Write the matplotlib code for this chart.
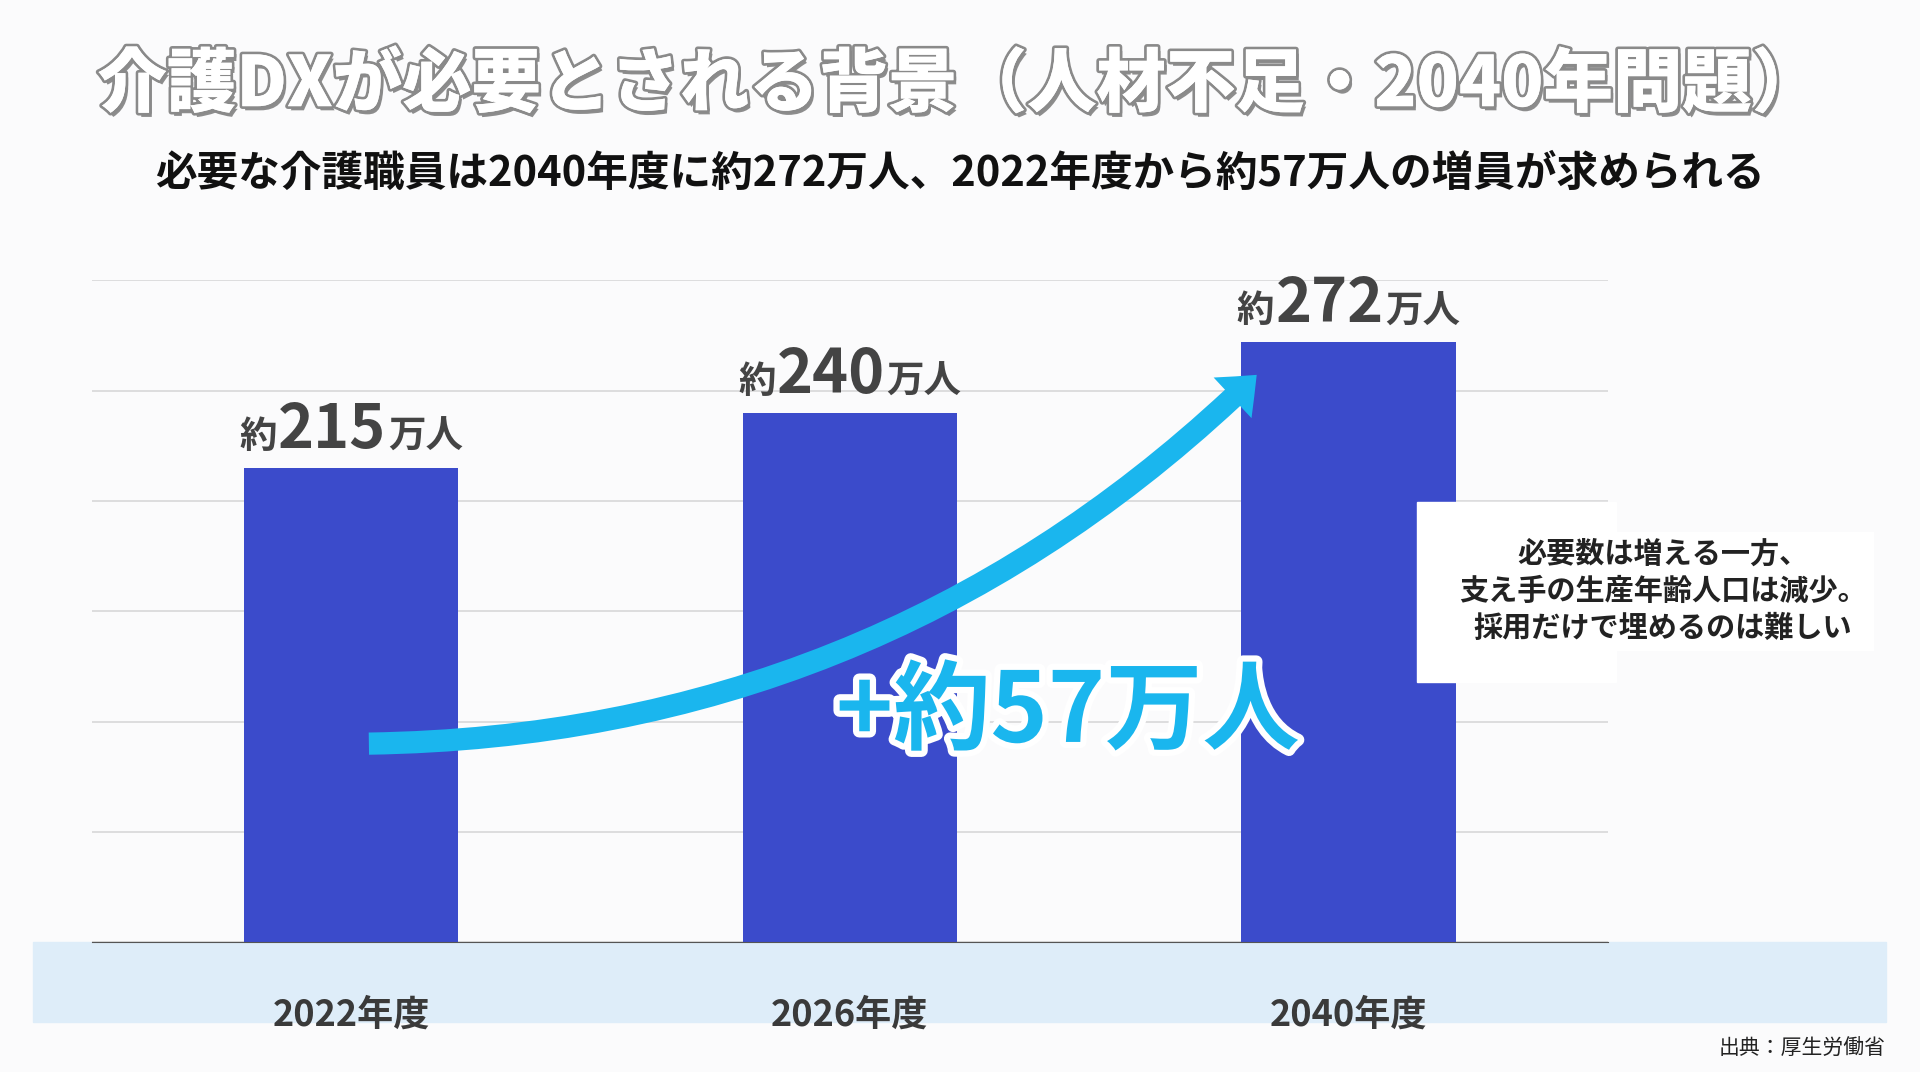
import matplotlib.pyplot as plt
import matplotlib.patheffects as pe
from matplotlib.patches import Rectangle
from matplotlib.offsetbox import TextArea, HPacker, AnnotationBbox

plt.rcParams['font.family'] = ['Noto Sans CJK JP', 'DejaVu Sans']

years = ['2022年度', '2026年度', '2040年度']
workers = [215, 240, 272]
bar_color = '#3b4bcb'
arrow_color = '#1ab6ee'

W, H = 1568, 876
fig = plt.figure(figsize=(19.2, 10.72), dpi=100)
fig.patch.set_facecolor('#fbfbfc')

def fx(px):
    return px / W

def fy(py):
    return 1 - py / H

# light blue band behind the category labels
fig.patches.append(Rectangle((fx(27), fy(835)), fx(1540) - fx(27), fy(770) - fy(835),
                             transform=fig.transFigure, color='#deedf9', zorder=-5))

ax = fig.add_axes([fx(75), fy(770), fx(1313) - fx(75), fy(229) - fy(770)], zorder=1)
ax.set_facecolor('none')
ax.set_xlim(-0.52, 2.52)
ax.set_ylim(0, 300)
ax.set_yticks(range(0, 301, 50))
ax.grid(axis='y', color='#d8d8d8', lw=1.2)
ax.set_axisbelow(True)
for s in ['top', 'right', 'left']:
    ax.spines[s].set_visible(False)
ax.spines['bottom'].set_color('#555555')
ax.tick_params(left=False, labelleft=False, bottom=False, labelbottom=False)
x = list(range(len(years)))
ax.bar(x, workers, width=0.43, color=bar_color, zorder=2)

for xi, yr in zip(x, years):
    ax.text(xi, -33, yr, ha='center', va='center', fontsize=26, fontweight='bold',
            color='#3a3a3a', clip_on=False)

for xi, v in zip(x, workers):
    parts = [TextArea('約', textprops=dict(fontsize=27, fontweight='bold', color='#444444')),
             TextArea(str(v), textprops=dict(fontsize=44, fontweight='bold', color='#444444')),
             TextArea('万人', textprops=dict(fontsize=27, fontweight='bold', color='#444444'))]
    box = HPacker(children=parts, align='baseline', pad=0, sep=1)
    ab = AnnotationBbox(box, (xi, v + 3), box_alignment=(0.5, 0), frameon=False,
                        zorder=3, annotation_clip=False)
    ax.add_artist(ab)

# growth arrow
ax.annotate('', xy=(1.82, 258), xytext=(0.03, 90),
            arrowprops=dict(arrowstyle='simple,head_length=2.4,head_width=4.0,tail_width=1.6',
                            connectionstyle='arc3,rad=0.2', color=arrow_color, lw=0),
            zorder=4)
fig.text(fx(872), fy(583), '+約57万人', ha='center', va='center', fontsize=70,
         fontweight='bold', color=arrow_color, zorder=6,
         path_effects=[pe.withStroke(linewidth=9, foreground='white')])

# note box
fig.patches.append(Rectangle((fx(1157), fy(557)), fx(1320) - fx(1157), fy(410) - fy(557),
                             transform=fig.transFigure, color='white', zorder=5))
fig.text(fx(1358), fy(483), '必要数は増える一方、\n支え手の生産年齢人口は減少。\n採用だけで埋めるのは難しい',
         ha='center', va='center', fontsize=21, fontweight='bold', color='#222222',
         linespacing=1.3, zorder=6,
         bbox=dict(boxstyle='square,pad=0.25', fc='white', ec='none'))

fig.text(0.5, fy(70), '介護DXが必要とされる背景（人材不足・2040年問題）', ha='center', va='center',
         fontsize=50, fontweight='heavy', color='white',
         path_effects=[pe.withSimplePatchShadow(offset=(2, -3), shadow_rgbFace='#444444', alpha=0.6),
                       pe.withStroke(linewidth=4, foreground='#8a8a8a'), pe.Normal()])
fig.text(0.5, fy(142), '必要な介護職員は2040年度に約272万人、2022年度から約57万人の増員が求められる',
         ha='center', va='center', fontsize=30, fontweight='bold', color='#111111')
fig.text(fx(1540), fy(857), '出典：厚生労働省', ha='right', va='center', fontsize=15, color='#222222')

fig.savefig('out.png', dpi=100, facecolor=fig.get_facecolor())
